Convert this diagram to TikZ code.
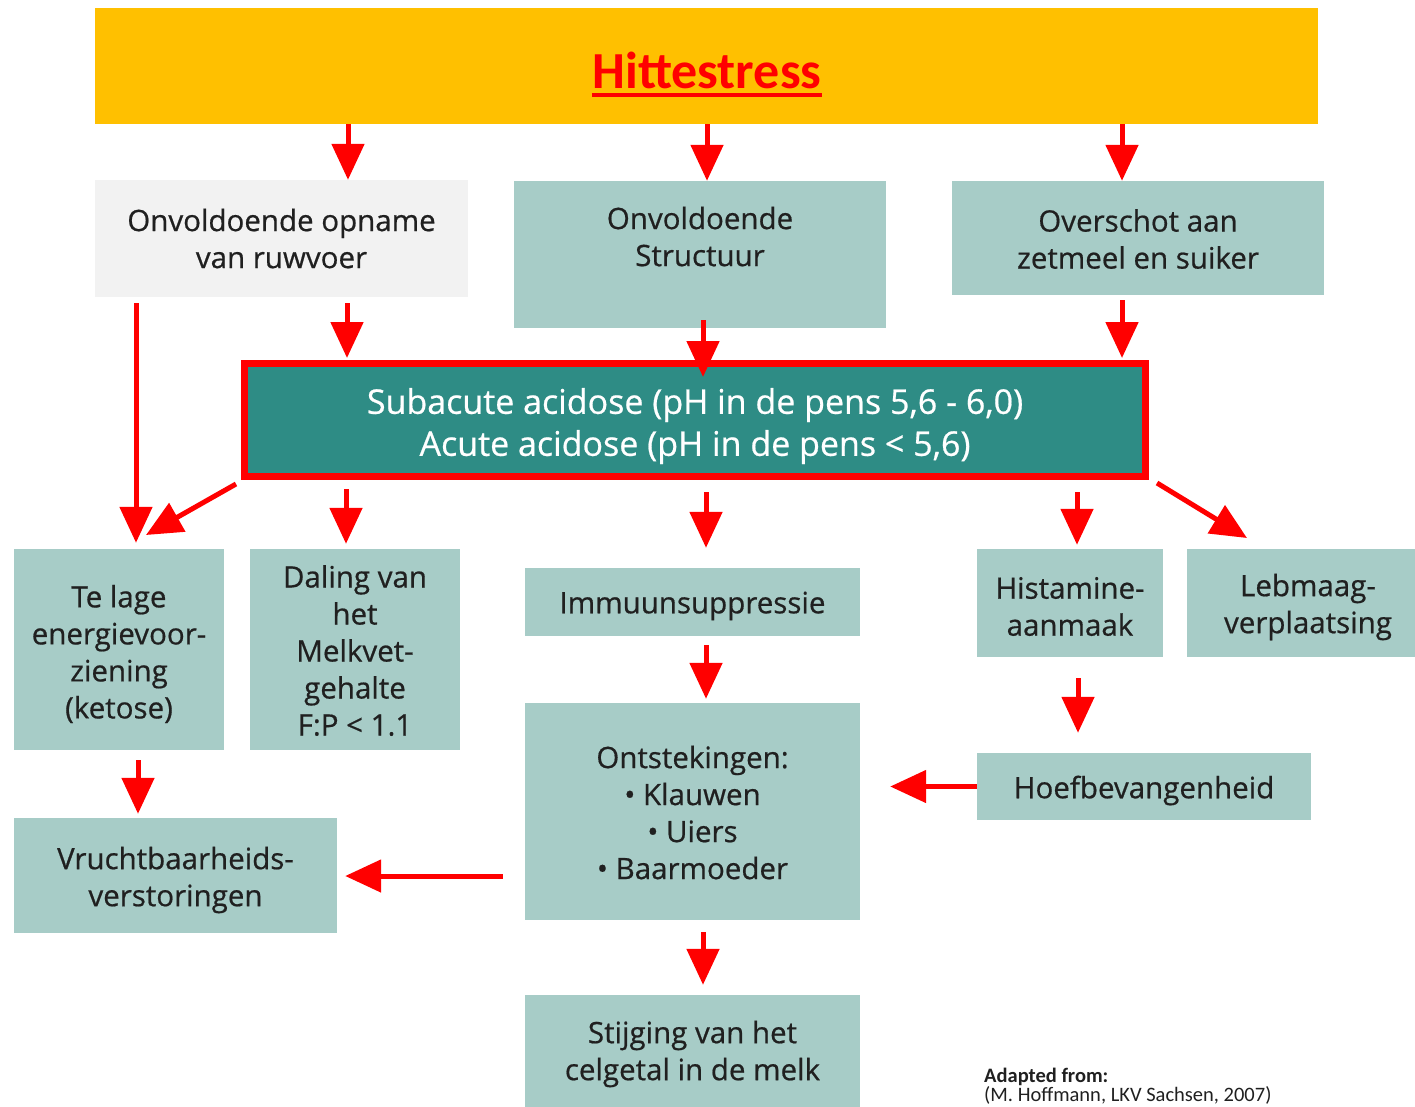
\documentclass[tikz,border=0pt]{standalone}
\usepackage{fontspec}
\setmainfont{Open Sans}
\newfontfamily\boxfont{Open Sans}[FakeBold=0.6]
\newfontfamily\titlefont{Carlito}
\usetikzlibrary{arrows.meta,calc}
\definecolor{ttlorange}{HTML}{FFC000}
\definecolor{lteal}{HTML}{A7CCC7}
\definecolor{dteal}{HTML}{2E8C85}
\definecolor{lgray}{HTML}{F2F2F2}
\definecolor{txt}{HTML}{202020}
\definecolor{arrred}{HTML}{FF0000}
\newcommand{\sht}[3]{\raisebox{#1}[\height][\depth]{\parbox{#2}{\centering #3}}}
\begin{document}
\begin{tikzpicture}[x=1pt,y=-1pt,
  box/.style={rectangle, fill=lteal, inner sep=0pt, text=txt, align=center,
    font=\boxfont\fontsize{29.5}{37}\selectfont},
  arr/.style={draw=arrred, line width=5pt, -{Triangle[length=36pt,width=32pt]}},
]
\useasboundingbox[fill=white] (0,0) rectangle (1415,1106);
% title
\node[rectangle, fill=ttlorange, minimum width=1223pt, minimum height=116pt, inner sep=0pt] (title) at (706.5,66) {};
\node[inner sep=0pt, text=arrred, font=\titlefont\bfseries\fontsize{52}{60}\selectfont, anchor=base] (ttl) at (707,88) {Hittestress};
\draw[arrred, line width=3.3pt] ([yshift=-7pt]ttl.base west) -- ([yshift=-7pt]ttl.base east);
% row 1
\node[box, fill=lgray, minimum width=373pt, minimum height=117pt] (A) at (281.5,238.5) {\sht{0pt}{360pt}{Onvoldoende opname\\van ruwvoer}};
\node[box, minimum width=372pt, minimum height=147pt] (B) at (700,254.5) {\sht{18pt}{300pt}{Onvoldoende\\Structuur}};
\node[box, minimum width=372pt, minimum height=114pt] (C) at (1138,238) {\sht{-1pt}{360pt}{Overschot aan\\zetmeel en suiker}};
% main
\node[rectangle, draw=arrred, line width=7pt, fill=dteal, minimum width=901pt, minimum height=113pt, inner sep=0pt,
  text=white, align=center, font=\boxfont\fontsize{34}{42}\selectfont] (main) at (695,420)
  {\sht{-6pt}{880pt}{Subacute acidose (pH in de pens 5,6 - 6,0)\\Acute acidose (pH in de pens < 5,6)}};
% row 2
\node[box, minimum width=210pt, minimum height=201pt] (TL) at (119,649.5) {\sht{-4.5pt}{205pt}{Te lage\\energievoor-\\ziening\\(ketose)}};
\node[box, minimum width=210pt, minimum height=201pt] (D) at (355,649.5) {\sht{-1pt}{205pt}{Daling van\\het\\Melkvet-\\gehalte\\F:P < 1.1}};
\node[box, minimum width=335pt, minimum height=68pt] (I) at (692.5,602) {\sht{-4pt}{320pt}{Immuunsuppressie}};
\node[box, minimum width=186pt, minimum height=108pt] (H) at (1070,603) {\sht{-3.5pt}{180pt}{Histamine-\\aanmaak}};
\node[box, minimum width=242pt, minimum height=108pt] (L) at (1308,603) {\sht{-4pt}{235pt}{Lebmaag-\\verplaatsing}};
% row 3
\node[box, minimum width=335pt, minimum height=217pt] (O) at (692.5,811.5) {\sht{-1pt}{320pt}{Ontstekingen:\\• Klauwen\\• Uiers\\• Baarmoeder}};
\node[box, minimum width=334pt, minimum height=67pt] (HF) at (1144,786.5) {\sht{-4pt}{320pt}{Hoefbevangenheid}};
\node[box, minimum width=323pt, minimum height=115pt] (V) at (175.5,875.5) {\sht{-4.5pt}{315pt}{Vruchtbaarheids-\\verstoringen}};
\node[box, minimum width=335pt, minimum height=140pt] (S) at (692.5,1065) {\sht{11pt}{320pt}{Stijging van het\\celgetal in de melk}};
% source
\node[anchor=base west, inner sep=0pt, font=\titlefont\bfseries\fontsize{20.5}{24}\selectfont, text=txt] (src1) at (984,1082) {Adapted from:};
\node[anchor=base west, inner sep=0pt, font=\titlefont\fontsize{20.5}{24}\selectfont, text=txt] (src2) at (984,1101) {(M. Hoffmann, LKV Sachsen, 2007)};
% coordinates
\coordinate (t1) at (348,124);
\coordinate (t2) at (707,124);
\coordinate (t3) at (1122,124);
\coordinate (a1) at (347,303);
\coordinate (a2) at (136,303);
\coordinate (b1) at (703,320);
\coordinate (b1e) at (703,377);
\coordinate (c1) at (1122,300);
\coordinate (m1) at (236,484);
\coordinate (m1e) at (146,535);
\coordinate (m2) at (346,489);
\coordinate (m3) at (706,492);
\coordinate (m4) at (1077,492);
\coordinate (m5) at (1157,483);
\coordinate (m5e) at (1247,538);
\coordinate (i1) at (706,645);
\coordinate (h1) at (1078,678);
\coordinate (tl1) at (138,760);
\coordinate (o1) at (703,932);
% arrows
\draw[arr] (t1) -- (t1 |- A.north);
\draw[arr] (t2) -- (t2 |- B.north);
\draw[arr] (t3) -- (t3 |- C.north);
\draw[arr] (a1) -- ([yshift=2pt]a1 |- main.north);
\draw[arr] (b1) -- (b1e);
\draw[arr] (c1) -- ([yshift=2pt]c1 |- main.north);
\draw[arr] (a2) -- ([yshift=6pt]a2 |- TL.north);
\draw[arr] (m1) -- (m1e);
\draw[arr] (m2) -- ([yshift=5pt]m2 |- D.north);
\draw[arr] (m3) -- ([yshift=20pt]m3 |- I.north);
\draw[arr] (m4) -- ([yshift=4pt]m4 |- H.north);
\draw[arr] (m5) -- (m5e);
\draw[arr] (i1) -- ([yshift=4pt]i1 |- O.north);
\draw[arr] (h1) -- ([yshift=20pt]h1 |- HF.north);
\draw[arr] (HF.west) -- ([xshift=30pt]HF.west -| O.east);
\draw[arr] (tl1) -- ([yshift=4pt]tl1 |- V.north);
\draw[arr] ([xshift=-22pt]O.west |- 0,876) -- ([xshift=8pt]V.east |- 0,876);
\draw[arr] (o1) -- ([yshift=10pt]o1 |- S.north);
\end{tikzpicture}
\end{document}
